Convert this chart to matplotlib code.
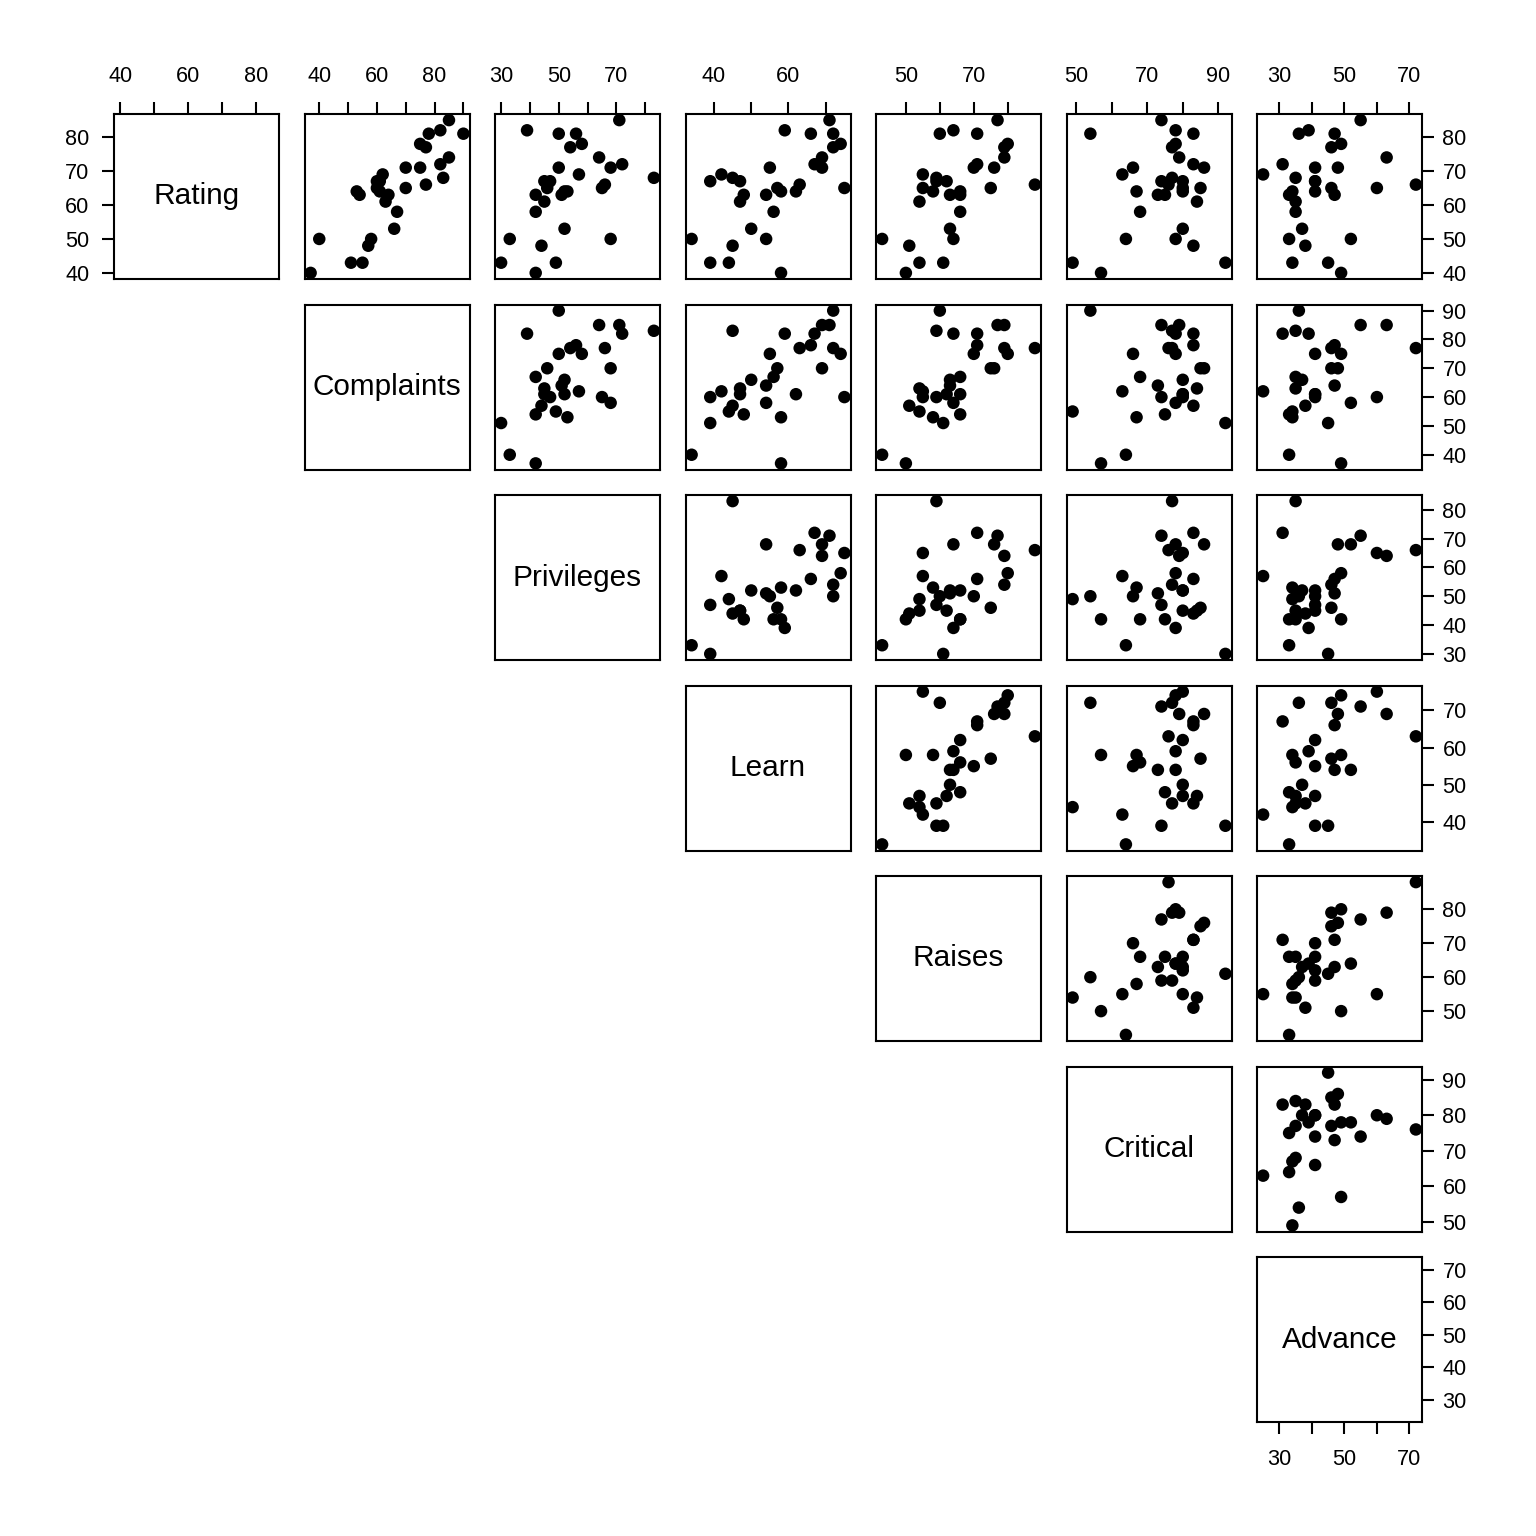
import matplotlib
matplotlib.use("Agg")
import matplotlib.pyplot as plt
import numpy as np

plt.rcParams['font.family'] = ['Liberation Sans', 'DejaVu Sans']

names = ["Rating", "Complaints", "Privileges", "Learn", "Raises", "Critical", "Advance"]

rating     = [43, 63, 71, 61, 81, 43, 58, 71, 72, 67, 64, 67, 69, 68, 77, 81, 74, 65, 65, 50, 50, 64, 53, 40, 63, 66, 78, 48, 85, 82]
complaints = [51, 64, 70, 63, 78, 55, 67, 75, 82, 61, 53, 60, 62, 83, 77, 90, 85, 60, 70, 58, 40, 61, 66, 37, 54, 77, 75, 57, 85, 82]
privileges = [30, 51, 68, 45, 56, 49, 42, 50, 72, 45, 53, 47, 57, 83, 54, 50, 64, 65, 46, 68, 33, 52, 52, 42, 42, 66, 58, 44, 71, 39]
learning   = [39, 54, 69, 47, 66, 44, 56, 55, 67, 47, 58, 39, 42, 45, 72, 72, 69, 75, 57, 54, 34, 62, 50, 58, 48, 63, 74, 45, 71, 59]
raises     = [61, 63, 76, 54, 71, 54, 66, 70, 71, 62, 58, 59, 55, 59, 79, 60, 79, 55, 75, 64, 43, 66, 63, 50, 66, 88, 80, 51, 77, 64]
critical   = [92, 73, 86, 84, 83, 49, 68, 66, 83, 80, 67, 74, 63, 77, 77, 54, 79, 80, 85, 78, 64, 80, 80, 57, 75, 76, 78, 83, 74, 78]
advance    = [45, 47, 48, 35, 47, 34, 35, 41, 31, 41, 34, 41, 25, 35, 46, 36, 63, 60, 46, 52, 33, 41, 37, 49, 33, 72, 49, 38, 55, 39]

columns = [rating, complaints, privileges, learning, raises, critical, advance]

# tick positions (pretty values) and which of them R labels on the top/bottom axis
ticks = [
    [40, 50, 60, 70, 80],
    [40, 50, 60, 70, 80, 90],
    [30, 40, 50, 60, 70, 80],
    [40, 50, 60, 70],
    [50, 60, 70, 80],
    [50, 60, 70, 80, 90],
    [30, 40, 50, 60, 70],
]
top_labels = [
    [40, 60, 80],
    [40, 60, 80],
    [30, 50, 70],
    [40, 60],
    [50, 70],
    [50, 70, 90],
    [30, 50, 70],
]

W = H = 1536
fig = plt.figure(figsize=(W / 150, H / 150), dpi=150)
fig.patch.set_facecolor("white")

n = 7
x_starts = [114, 304.5, 495, 685.5, 876, 1066.5, 1257]
size = 165

def rng(v):
    lo, hi = min(v), max(v)
    d = (hi - lo) * 0.04
    return lo - d, hi + d

tick_len = 5.8
lw = 1.0
fs_tick = 10.4

for r in range(n):
    for c in range(r, n):
        x0 = x_starts[c]
        y0 = x_starts[r]
        ax = fig.add_axes([x0 / W, 1 - (y0 + size) / H, size / W, size / H])
        ax.set_xlim(*rng(columns[c]))
        ax.set_ylim(*rng(columns[r]))
        for s in ax.spines.values():
            s.set_linewidth(lw)
        ax.tick_params(axis='both', which='both', length=0, labelsize=fs_tick,
                       bottom=False, top=False, left=False, right=False,
                       labelbottom=False, labeltop=False, labelleft=False, labelright=False)
        if r == c:
            ax.text(0.5, 0.5, names[r], transform=ax.transAxes, ha='center', va='center',
                    fontsize=14.3)
            ax.set_xticks([])
            ax.set_yticks([])
        else:
            ax.scatter(columns[c], columns[r], s=36, c='black', edgecolors='none', zorder=3)
            ax.set_xticks([])
            ax.set_yticks([])
        # top axis on first row
        if r == 0:
            ax.set_xticks(ticks[c])
            ax.set_xticklabels([str(t) if t in top_labels[c] else "" for t in ticks[c]])
            ax.tick_params(axis='x', top=True, labeltop=True, length=tick_len, width=lw,
                           direction='out', pad=7, labelsize=fs_tick)
        # bottom axis on last panel
        if r == n - 1 and c == n - 1:
            ax.set_xticks(ticks[c])
            ax.set_xticklabels([str(t) if t in top_labels[c] else "" for t in ticks[c]])
            ax.tick_params(axis='x', bottom=True, labelbottom=True, length=tick_len, width=lw,
                           direction='out', pad=7, labelsize=fs_tick)
        # right axis on last column
        if c == n - 1:
            ax.set_yticks(ticks[r])
            ax.set_yticklabels([str(t) for t in ticks[r]])
            ax.tick_params(axis='y', right=True, labelright=True, length=tick_len, width=lw,
                           direction='out', pad=4, labelsize=fs_tick)
        # left axis on first panel
        if r == 0 and c == 0:
            ax.set_yticks(ticks[0])
            ax.set_yticklabels([str(t) for t in ticks[0]])
            ax.tick_params(axis='y', left=True, labelleft=True, length=tick_len, width=lw,
                           direction='out', pad=6, labelsize=fs_tick)

fig.savefig("out.png", dpi=150, facecolor="white")
